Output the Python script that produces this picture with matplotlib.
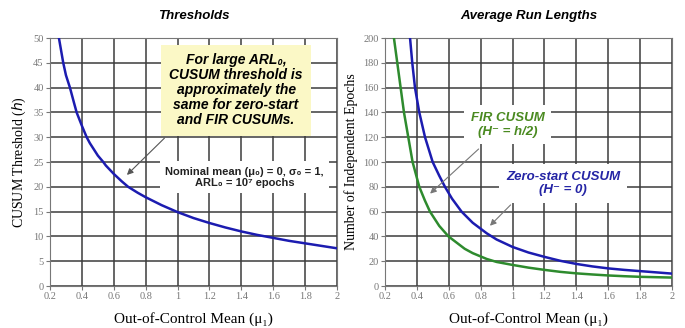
import matplotlib.pyplot as plt
import matplotlib.ticker as ticker

# threshold curve (left)
mu_h = [0.256, 0.283, 0.3, 0.325, 0.35, 0.367, 0.4, 0.43, 0.45, 0.5, 0.534, 0.55, 0.6, 0.65,
        0.69, 0.75, 0.8, 0.9, 1.0, 1.1, 1.2, 1.3, 1.4, 1.5, 1.6, 1.7, 1.8, 1.9, 2.0]
h_vals = [50, 45, 42.5, 40, 37, 35, 32.3, 30, 28.8, 26.3, 25, 24.3, 22.6, 21.1,
          20, 18.8, 17.9, 16.3, 14.9, 13.7, 12.7, 11.8, 11.0, 10.3, 9.7, 9.1, 8.6, 8.1, 7.6]

# average run lengths (right)
mu_zero = [0.357, 0.371, 0.388, 0.415, 0.451, 0.499, 0.54, 0.576, 0.62, 0.68, 0.75, 0.838,
           0.9, 1.0, 1.1, 1.2, 1.3, 1.4, 1.5, 1.6, 1.7, 1.8, 1.9, 2.0]
arl_zero = [200, 180, 160, 140, 120, 100, 89, 80, 70.5, 60, 51, 42.5,
            37.5, 31.5, 27, 23.5, 20.3, 17.8, 15.8, 14.2, 13, 12, 11, 10]
mu_fir = [0.256, 0.277, 0.298, 0.319, 0.346, 0.373, 0.415, 0.45, 0.482, 0.54, 0.598, 0.7,
          0.75, 0.838, 0.9, 1.0, 1.1, 1.2, 1.3, 1.4, 1.5, 1.6, 1.7, 1.8, 1.9, 2.0]
arl_fir = [200, 180, 160, 140, 120, 100, 80, 69, 60, 48.5, 40, 30,
           26.5, 21.8, 19.4, 17, 14.8, 13, 11.4, 10.2, 9.3, 8.5, 7.9, 7.4, 7.1, 6.8]

xticks = [0.2, 0.4, 0.6, 0.8, 1.0, 1.2, 1.4, 1.6, 1.8, 2.0]

sans = ['Liberation Sans', 'DejaVu Sans']
serif = ['Liberation Serif', 'DejaVu Serif']
blue = '#1c1cb0'
green = '#2e8b2e'
gridc = '#3c3c3c'

fig = plt.figure(figsize=(6.85, 3.28), dpi=100)
ax1 = fig.add_axes([50 / 685, 42 / 328, 287 / 685, 248 / 328])
ax2 = fig.add_axes([385 / 685, 42 / 328, 287 / 685, 248 / 328])


def style(ax, ymax, ystep, ylabel, title):
    ax.set_xlim(0.2, 2)
    ax.set_ylim(0, ymax)
    ax.set_xticks(xticks)
    ax.xaxis.set_major_formatter(ticker.FormatStrFormatter('%g'))
    ax.yaxis.set_major_locator(ticker.MultipleLocator(ystep))
    ax.grid(True, color=gridc, lw=1.1, zorder=0)
    for s in ax.spines.values():
        s.set_color('#777777')
        s.set_linewidth(0.8)
    ax.tick_params(labelsize=7.5, labelcolor='#777777', color='#777777',
                   length=3, width=0.8, pad=1.5)
    for lab in ax.get_xticklabels() + ax.get_yticklabels():
        lab.set_family(serif)
    ax.set_xlabel('Out-of-Control Mean (\u03bc\u2081)', family=serif, fontsize=11, labelpad=8)
    ax.set_ylabel(ylabel, family=serif, fontsize=10, labelpad=4)
    ax.set_title(title, family=sans, fontsize=9.5, fontweight='bold', style='italic', pad=14)


style(ax1, 50, 5, 'CUSUM Threshold ($h$)', 'Thresholds')
style(ax2, 200, 20, 'Number of Independent Epochs', 'Average Run Lengths')

kw = dict(lw=1.8, zorder=3, solid_joinstyle='round')
ax1.plot(mu_h, h_vals, color=blue, **kw)
ax2.plot(mu_zero, arl_zero, color=blue, **kw)
ax2.plot(mu_fir, arl_fir, color=green, **kw)

# left annotations
ax1.annotate('', xy=(0.67, 22), xytext=(0.93, 30.2),
             arrowprops=dict(arrowstyle='-|>', color='#555555', lw=0.8, mutation_scale=9), zorder=4)
ax1.text(1.367, 39.5,
         'For large ARL\u2080,\nCUSUM threshold is\napproximately the\nsame for zero-start\nand FIR CUSUMs.',
         family=sans, fontsize=10, fontweight='bold', style='italic', ha='center', va='center',
         linespacing=1.1, zorder=5,
         bbox=dict(boxstyle='square,pad=0.6', fc='#fbf8c6', ec='none'))
ax1.text(1.42, 21.9, 'Nominal mean (\u03bc\u2080) = 0, \u03c3\u2080 = 1,\nARL\u2080 = 10\u2077 epochs',
         family=sans, fontsize=8, fontweight='bold', ha='center', va='center',
         color='#222222', linespacing=1.1, zorder=5,
         bbox=dict(boxstyle='square,pad=0.5', fc='white', ec='none'))

# right annotations
ax2.annotate('', xy=(0.47, 73), xytext=(0.8, 112),
             arrowprops=dict(arrowstyle='-|>', color='#777777', lw=0.8, mutation_scale=9), zorder=4)
ax2.annotate('', xy=(0.846, 47), xytext=(1.0, 67),
             arrowprops=dict(arrowstyle='-|>', color='#777777', lw=0.8, mutation_scale=9), zorder=4)
ax2.text(0.97, 130, 'FIR CUSUM\n(H\u207b = h/2)', color='#4a8a20', family=sans,
         fontsize=9.5, fontweight='bold', style='italic', ha='center', va='center',
         linespacing=1.2, zorder=5,
         bbox=dict(boxstyle='square,pad=0.5', fc='white', ec='none'))
ax2.text(1.317, 82.7, 'Zero-start CUSUM\n(H\u207b = 0)', color='#2525a5', family=sans,
         fontsize=9.5, fontweight='bold', style='italic', ha='center', va='center',
         linespacing=1.2, zorder=5,
         bbox=dict(boxstyle='square,pad=0.5', fc='white', ec='none'))

fig.savefig('out.png', dpi=100)
